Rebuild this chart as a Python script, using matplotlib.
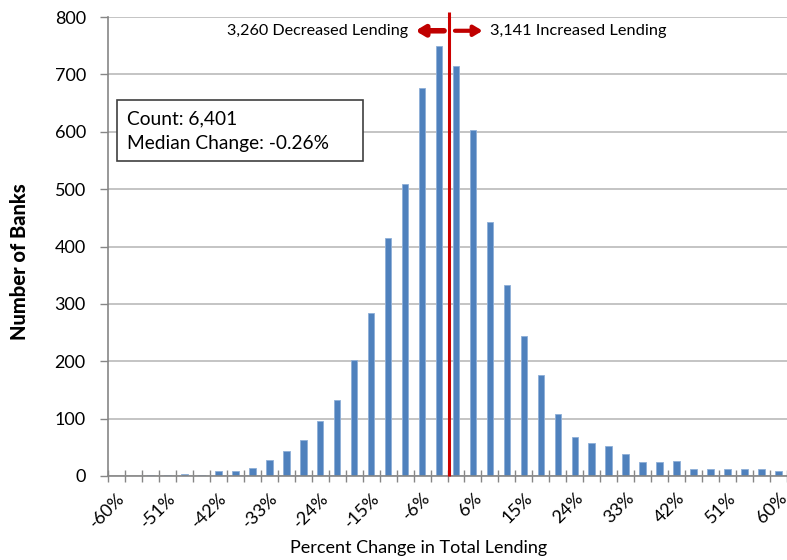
import matplotlib
matplotlib.use("Agg")
import matplotlib.pyplot as plt
from matplotlib.patches import Rectangle

# ---------------- data ----------------
categories = [-60, -57, -54, -51, -48, -45, -42, -39, -36, -33,
              -30, -27, -24, -21, -18, -15, -12, -9, -6, -3,
              3, 6, 9, 12, 15, 18, 21, 24, 27, 30,
              33, 36, 39, 42, 45, 48, 51, 54, 57, 60]
bank_counts = [0, 0, 1, 1, 4, 2, 8, 9, 14, 28,
               44, 63, 96, 133, 203, 284, 415, 509, 677, 750,
               715, 603, 443, 333, 244, 176, 108, 68, 57, 53,
               38, 24, 24, 26, 12, 13, 12, 13, 13, 9]
shown_labels = [-60, -51, -42, -33, -24, -15, -6, 6, 15, 24, 33, 42, 51, 60]
y_ticks = [0, 100, 200, 300, 400, 500, 600, 700, 800]
left_text = "3,260 Decreased Lending"
right_text = "3,141 Increased Lending"
box_lines = ["Count: 6,401", "Median Change: -0.26%"]
median_marker = 19.6   # category-index position of the median divider

# ---------------- figure ----------------
plt.rcParams["font.family"] = ["Lato", "DejaVu Sans"]
W, H = 787, 560
fig = plt.figure(figsize=(W / 100, H / 100), dpi=100)
ax = fig.add_axes([108 / W, 1 - 476 / H, (W - 108) / W, (476 - 17) / H])

x = list(range(len(categories)))
ax.bar(x, bank_counts, width=0.39, color="#4F81BD", edgecolor="#8EAFD8",
       linewidth=0.6, zorder=3)

ax.set_xlim(-0.5, -0.5 + (W - 108) / 17.17)
ax.set_ylim(0, 800)

# y axis
ax.set_yticks(y_ticks)
ax.set_yticklabels([str(v) for v in y_ticks], fontsize=13, color="black")
ax.tick_params(axis="y", direction="out", length=6, width=1, color="#868686", pad=10)
ax.yaxis.grid(True, color="#BFBFBF", linewidth=1.3, zorder=0)
ax.set_axisbelow(True)

# x axis: labels at category centres, tick marks at category boundaries
label_pos = [categories.index(v) for v in shown_labels]
ax.set_xticks(label_pos)
ax.set_xticklabels([f"{v}%" for v in shown_labels], fontsize=13, rotation=45,
                   ha="right", va="top", rotation_mode="anchor")
ax.tick_params(axis="x", which="major", length=0, pad=10)
ax.set_xticks([i - 0.5 for i in range(len(categories) + 1)], minor=True)
ax.tick_params(axis="x", which="minor", direction="inout", length=9, width=1,
               color="#868686")

for s in ["top", "right"]:
    ax.spines[s].set_visible(False)
for s in ["left", "bottom"]:
    ax.spines[s].set_color("#868686")
    ax.spines[s].set_linewidth(1.2)
    ax.spines[s].set_zorder(4)

fig.text(419 / W, 1 - 548 / H, "Percent Change in Total Lending", fontsize=13,
         ha="center", va="center")
fig.text(20 / W, 1 - 262 / H, "Number of Banks", fontsize=14.5, fontweight="black",
         rotation=90, ha="center", va="center")

# median divider
ax.plot([median_marker, median_marker], [0, 809], color="#CC0000", lw=2.2,
        zorder=5, clip_on=False, solid_capstyle="butt")

# arrows and annotation
ax.annotate("", xy=(17.61, 776), xytext=(19.3, 776),
            arrowprops=dict(arrowstyle="-|>,head_length=0.5,head_width=0.3",
                            color="#C00000", lw=4, shrinkA=0, shrinkB=0),
            annotation_clip=False)
ax.annotate("", xy=(21.57, 776), xytext=(19.94, 776),
            arrowprops=dict(arrowstyle="-|>,head_length=0.5,head_width=0.3",
                            color="#C00000", lw=3, shrinkA=0, shrinkB=0),
            annotation_clip=False)
ax.text(17.2, 776, left_text, fontsize=11.6, ha="right", va="center", zorder=6)
ax.text(22.0, 776, right_text, fontsize=11.8, ha="left", va="center", zorder=6)

# info box
fig.patches.append(Rectangle((117 / W, 1 - 161 / H), (363 - 117) / W, (161 - 100) / H,
                             transform=fig.transFigure, facecolor="white",
                             edgecolor="#404040", linewidth=1.2, zorder=6))
fig.text(127 / W, 1 - 119 / H, box_lines[0], fontsize=13.8, ha="left", va="center",
         zorder=7)
fig.text(127 / W, 1 - 144 / H, box_lines[1], fontsize=13.8, ha="left", va="center",
         zorder=7)

fig.savefig("out.png", dpi=100)
